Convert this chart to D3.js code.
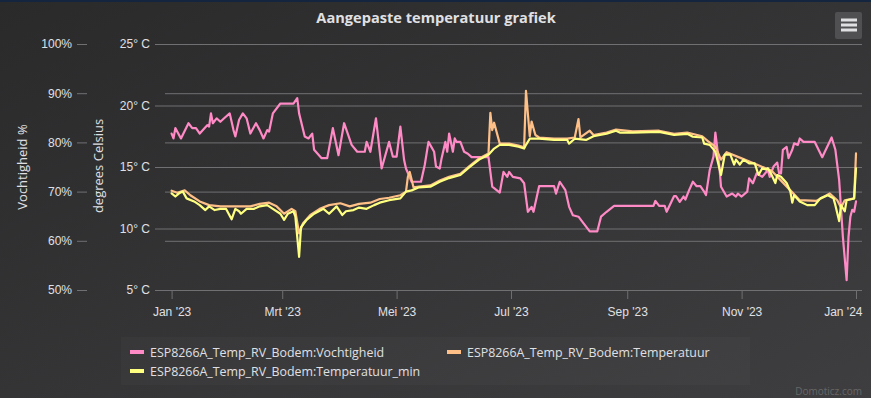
<!DOCTYPE html>
<html>
<head>
<meta charset="utf-8">
<script src="https://cdn.jsdelivr.net/npm/d3@7"></script>
<style>
  html, body { margin: 0; padding: 0; background: #2a2a2b; }
  svg { display: block; font-family: "Open Sans", "DejaVu Sans", sans-serif; }
</style>
</head>
<body>
<div id="chart-area"></div>
<script>
const WIDTH = 871
const HEIGHT = 398
const PLOT = { LEFT: 155, RIGHT: 862, TOP: 44, BOTTOM: 290 }

// x axis: ticks every two months (Dutch labels)
const tickDates = ["2023-01-01", "2023-03-01", "2023-05-01", "2023-07-01", "2023-09-01", "2023-11-01", "2024-01-01"]
const tickLabels = ["Jan '23", "Mrt '23", "Mei '23", "Jul '23", "Sep '23", "Nov '23", "Jan '24"]
const tempTicks = [5, 10, 15, 20, 25]
const humTicks = [50, 60, 70, 80, 90, 100]

// days since 1 Jan 2023
const humDays = [0, 1, 2, 5, 9, 11, 13, 15, 19, 20, 21, 22, 24, 26, 28, 31, 33, 34, 36, 38, 40, 42, 45, 47, 49, 51, 52, 54, 58, 65, 67, 68, 71, 73, 75, 76, 80, 83, 86, 89, 92, 96, 99, 103, 104, 106, 109, 112, 116, 118, 120, 122, 124, 125, 128, 133, 135, 137, 140, 141, 143, 144, 146, 147, 148, 150, 151, 152, 154, 156, 158, 160, 169, 171, 175, 177, 179, 180, 182, 186, 188, 190, 192, 193, 196, 204, 205, 207, 210, 212, 214, 217, 219, 223, 227, 229, 232, 236, 257, 258, 260, 263, 264, 268, 269, 271, 273, 274, 276, 278, 280, 282, 284, 285, 287, 289, 290, 292, 293, 296, 299, 301, 302, 304, 307, 308, 310, 312, 315, 318, 319, 321, 323, 324, 325, 326, 328, 329, 331, 332, 334, 335, 337, 343, 347, 348, 352, 354, 356, 358, 360, 361, 362, 363, 364, 365]
const humValues = [81.8, 80.8, 82.9, 80.8, 83.9, 82.9, 82.9, 81.8, 83.5, 83.2, 85.9, 83.9, 84.9, 84.2, 84.9, 85.9, 82.5, 81.2, 84.6, 85.9, 84.9, 81.8, 83.9, 82.5, 80.8, 82.5, 82.2, 85.9, 87.9, 87.9, 89.0, 85.9, 81.2, 80.8, 81.8, 78.5, 76.8, 76.8, 82.9, 77.4, 83.9, 79.5, 78.1, 78.1, 80.1, 78.1, 84.9, 74.7, 80.1, 77.1, 77.1, 83.2, 76.4, 74.7, 72.0, 72.0, 75.4, 80.1, 78.1, 75.1, 74.7, 76.8, 80.1, 78.1, 81.8, 78.1, 80.8, 80.1, 80.1, 78.1, 77.7, 77.0, 77.0, 71.0, 69.8, 74.0, 73.0, 74.0, 73.0, 72.7, 71.7, 65.9, 66.9, 65.9, 71.1, 71.1, 69.6, 72.0, 70.3, 66.9, 65.2, 64.9, 63.9, 61.9, 61.9, 64.9, 65.9, 67.1, 67.1, 68.1, 67.1, 67.1, 65.9, 69.1, 69.1, 67.9, 69.0, 68.4, 70.3, 72.0, 71.1, 71.1, 70.0, 69.3, 74.4, 77.1, 82.0, 75.7, 71.0, 69.0, 69.6, 69.0, 69.6, 69.0, 70.0, 72.7, 71.7, 73.7, 73.0, 74.4, 73.0, 75.1, 75.9, 73.7, 73.7, 78.5, 79.1, 76.8, 78.5, 79.8, 79.5, 80.8, 80.1, 80.1, 77.0, 77.8, 81.0, 78.5, 72.4, 60.8, 52.0, 60.8, 64.9, 66.3, 65.9, 68.0]

const tempDays = [0, 3, 7, 10, 15, 20, 26, 31, 36, 42, 47, 52, 56, 60, 64, 66, 68, 70, 74, 79, 84, 90, 95, 100, 106, 111, 116, 122, 125, 126, 127, 129, 132, 138, 143, 148, 154, 159, 164, 169, 170, 171, 172, 175, 180, 185, 188, 189, 191, 192, 194, 196, 204, 211, 215, 217, 218, 223, 225, 232, 237, 246, 260, 268, 275, 283, 286, 290, 293, 296, 304, 312, 320, 330, 335, 344, 351, 355, 357, 359, 364, 365]
const tempValues = [13.07, 12.9, 13.1, 12.7, 12.2, 11.9, 11.8, 11.8, 11.8, 11.8, 12.0, 12.1, 11.8, 11.2, 11.6, 11.4, 9.6, 10.4, 11.1, 11.6, 11.9, 12.05, 11.8, 12.0, 12.1, 12.4, 12.5, 12.7, 13.0, 14.2, 14.6, 13.35, 13.4, 13.5, 13.9, 14.2, 14.45, 15.1, 15.7, 16.1, 19.4, 18.0, 18.6, 16.9, 16.9, 16.75, 16.6, 21.2, 17.5, 18.7, 17.6, 17.4, 17.3, 17.3, 17.4, 18.9, 17.4, 17.95, 17.6, 17.8, 18.05, 17.9, 17.95, 17.7, 17.8, 17.5, 17.1, 16.65, 15.6, 16.2, 15.7, 15.2, 14.7, 13.1, 12.3, 12.25, 12.85, 12.3, 11.7, 12.3, 12.45, 16.1]

const tminDays = [0, 2, 4, 6, 8, 12, 15, 18, 20, 23, 26, 29, 32, 34, 36, 37, 40, 44, 47, 51, 54, 58, 60, 62, 65, 66, 68, 69, 72, 76, 81, 84, 88, 91, 93, 97, 100, 104, 108, 111, 116, 122, 125, 128, 132, 138, 143, 148, 154, 159, 164, 169, 172, 175, 180, 185, 188, 189, 191, 196, 204, 211, 212, 215, 221, 225, 232, 237, 239, 246, 260, 268, 275, 278, 283, 284, 287, 290, 293, 295, 298, 300, 301, 303, 305, 308, 311, 313, 315, 317, 318, 320, 322, 323, 325, 328, 330, 331, 332, 335, 339, 343, 346, 350, 353, 354, 356, 357, 359, 360, 363, 364, 365]
const tminValues = [12.86, 12.6, 12.86, 13.0, 12.45, 12.2, 11.9, 11.5, 11.8, 11.5, 11.6, 11.6, 10.75, 11.6, 11.4, 11.2, 11.6, 11.6, 11.8, 11.9, 11.6, 11.2, 10.7, 11.2, 11.4, 10.96, 7.7, 10.1, 10.7, 11.2, 11.6, 11.2, 11.8, 11.1, 11.4, 11.5, 11.7, 11.6, 11.9, 12.1, 12.3, 12.45, 13.0, 13.1, 13.35, 13.4, 13.8, 14.1, 14.35, 15.0, 15.6, 16.0, 16.5, 16.8, 16.8, 16.65, 16.5, 16.8, 17.3, 17.3, 17.2, 17.2, 16.9, 17.3, 17.2, 17.5, 17.7, 17.95, 17.8, 17.8, 17.85, 17.6, 17.7, 17.46, 17.4, 16.9, 16.8, 16.25, 14.35, 16.0, 16.0, 15.2, 15.6, 15.2, 15.6, 15.3, 15.3, 14.35, 14.9, 14.8, 14.9, 14.35, 13.7, 14.35, 14.2, 13.7, 13.0, 12.1, 12.7, 12.2, 11.9, 11.9, 12.45, 12.7, 12.45, 11.9, 10.6, 11.9, 11.4, 12.3, 12.4, 12.45, 14.9]

const seriesNames = ["ESP8266A_Temp_RV_Bodem:Vochtigheid", "ESP8266A_Temp_RV_Bodem:Temperatuur", "ESP8266A_Temp_RV_Bodem:Temperatuur_min"]
const seriesColors = ["#ff8ac6", "#ffc088", "#ffff80"]

const start = new Date(2023, 0, 1)
const toDate = d => d3.timeDay.offset(start, d)

const svg = d3.select("#chart-area").append("svg")
  .attr("width", WIDTH)
  .attr("height", HEIGHT)

// background
const grad = svg.append("defs").append("linearGradient")
  .attr("id", "bg").attr("x1", 0).attr("y1", 0).attr("x2", 1).attr("y2", 1)
grad.append("stop").attr("offset", "0%").attr("stop-color", "#2a2a2b")
grad.append("stop").attr("offset", "100%").attr("stop-color", "#3e3e40")
svg.append("rect").attr("width", WIDTH).attr("height", HEIGHT).attr("fill", "url(#bg)")
svg.append("rect").attr("width", WIDTH).attr("height", 2).attr("fill", "#142540")

// title
svg.append("text")
  .attr("x", 436)
  .attr("y", 23)
  .attr("text-anchor", "middle")
  .attr("font-size", "14.6px")
  .attr("font-weight", "bold")
  .attr("fill", "#e0e0e3")
  .text("Aangepaste temperatuur grafiek")

// menu button
svg.append("rect")
  .attr("x", 835).attr("y", 12).attr("width", 27).attr("height", 27)
  .attr("rx", 2).attr("fill", "#505053")
svg.selectAll(".menu-line").data([20, 25, 30]).enter().append("line")
  .attr("x1", 841).attr("x2", 857)
  .attr("y1", d => d).attr("y2", d => d)
  .attr("stroke", "#e0e0e3").attr("stroke-width", 3)

// scales
const x = d3.scaleTime()
  .domain([toDate(0), toDate(365)])
  .range([171.6, 856])

const yTemp = d3.scaleLinear()
  .domain([5, 25])
  .range([PLOT.BOTTOM, PLOT.TOP])

const yHum = d3.scaleLinear()
  .domain([50, 100])
  .range([PLOT.BOTTOM, PLOT.TOP])

// humidity axis (left, outer)
const humAxis = svg.append("g")
  .attr("transform", "translate(87, 0)")
  .call(d3.axisLeft(yHum).tickValues(humTicks).tickSize(10).tickPadding(5).tickFormat(d => d + "%"))
humAxis.select(".domain").remove()
humAxis.selectAll("line").attr("stroke", "#707073")
humAxis.selectAll("text").attr("fill", "#e0e0e3").attr("font-size", "12px")

// humidity gridlines
svg.append("g").selectAll("line")
  .data(humTicks.filter(d => d > 50 && d < 100))
  .enter().append("line")
  .attr("x1", 165).attr("x2", PLOT.RIGHT)
  .attr("y1", d => yHum(d) + 0.5).attr("y2", d => yHum(d) + 0.5)
  .attr("stroke", "#707073")

// temperature gridlines + labels
const tempAxis = svg.append("g")
  .attr("transform", `translate(${PLOT.LEFT}, 0)`)
  .call(d3.axisLeft(yTemp).tickValues(tempTicks).tickSize(-(PLOT.RIGHT - PLOT.LEFT)).tickPadding(5).tickFormat(d => d + "° C"))
tempAxis.select(".domain").remove()
tempAxis.selectAll("line").attr("stroke", "#707073")
tempAxis.selectAll("text").attr("fill", "#e0e0e3").attr("font-size", "12px")

// axis titles
svg.append("text")
  .attr("transform", "translate(27, 167) rotate(-90)")
  .attr("text-anchor", "middle")
  .attr("font-size", "13px")
  .attr("fill", "#e0e0e3")
  .text("Vochtigheid %")

svg.append("text")
  .attr("transform", "translate(103, 166) rotate(-90)")
  .attr("text-anchor", "middle")
  .attr("font-size", "13px")
  .attr("fill", "#e0e0e3")
  .text("degrees Celsius")

// x axis
const xAxis = svg.append("g")
  .attr("transform", `translate(0, ${PLOT.BOTTOM})`)
  .call(d3.axisBottom(x)
    .tickValues(tickDates.map(d => d3.timeParse("%Y-%m-%d")(d)))
    .tickSize(9).tickPadding(8)
    .tickFormat((d, i) => tickLabels[i]))
xAxis.select(".domain").remove()
xAxis.selectAll("line").attr("stroke", "#707073")
xAxis.selectAll("text").attr("fill", "#e0e0e3").attr("font-size", "12px")
// keep the last label inside the chart, like the original
xAxis.selectAll("text").filter((d, i) => i === tickLabels.length - 1)
  .attr("text-anchor", "end").attr("x", 6)
svg.append("line")
  .attr("x1", PLOT.LEFT).attr("x2", PLOT.RIGHT)
  .attr("y1", PLOT.BOTTOM + 0.5).attr("y2", PLOT.BOTTOM + 0.5)
  .attr("stroke", "#707073")

// series
const series = [
  { days: humDays, values: humValues, y: yHum },
  { days: tempDays, values: tempValues, y: yTemp },
  { days: tminDays, values: tminValues, y: yTemp }
]

series.forEach((s, i) => {
  const line = d3.line()
    .x((d, j) => x(toDate(s.days[j])))
    .y(d => s.y(d))
  svg.append("path")
    .datum(s.values)
    .attr("d", line)
    .attr("fill", "none")
    .attr("stroke", seriesColors[i])
    .attr("stroke-width", 2.2)
    .attr("stroke-linejoin", "round")
    .attr("stroke-linecap", "round")
})

// legend
svg.append("rect")
  .attr("x", 121).attr("y", 337).attr("width", 629).attr("height", 48)
  .attr("fill", "rgba(255,255,255,0.025)")
const legend = svg.append("g")

const legendPos = [[130, 352], [447, 352], [130, 371]]
seriesNames.forEach((name, i) => {
  const [lx, ly] = legendPos[i]
  legend.append("line")
    .attr("x1", lx).attr("x2", lx + 14)
    .attr("y1", ly).attr("y2", ly)
    .attr("stroke", seriesColors[i]).attr("stroke-width", 4)
  legend.append("text")
    .attr("x", lx + 20).attr("y", ly + 4.5)
    .attr("font-size", "12.4px")
    .attr("fill", "#e0e0e3")
    .text(name)
})

// credits
svg.append("text")
  .attr("x", 862).attr("y", 395)
  .attr("text-anchor", "end")
  .attr("font-size", "10px")
  .attr("fill", "#666666")
  .text("Domoticz.com")
</script>
</body>
</html>
